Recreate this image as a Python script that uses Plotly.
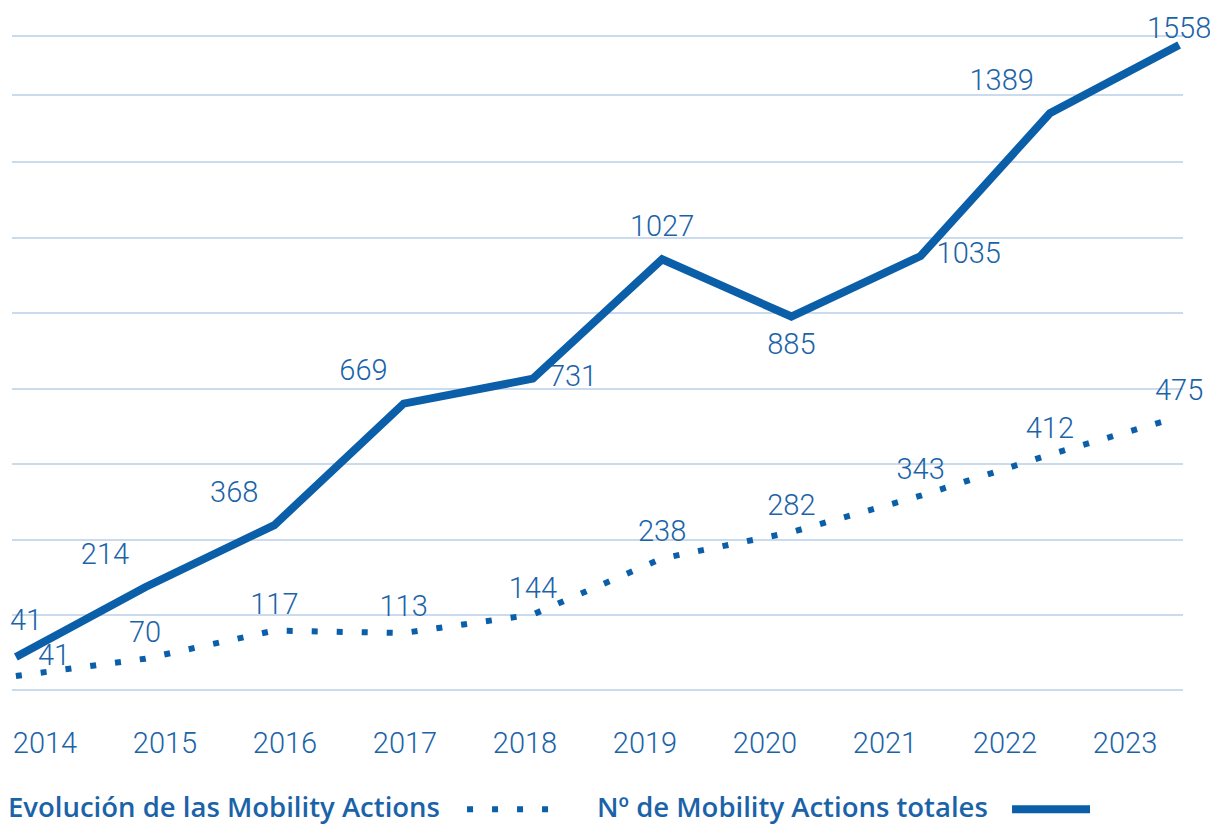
import plotly.graph_objects as go

years = ["2014", "2015", "2016", "2017", "2018", "2019", "2020", "2021", "2022", "2023"]
totales = [41, 214, 368, 669, 731, 1027, 885, 1035, 1389, 1558]
evolucion = [41, 70, 117, 113, 144, 238, 282, 343, 412, 475]

# label placement (style only); the first label of each series is placed by annotation
pos_totales = ["top right", "top left", "top left", "top left", "middle right",
               "top center", "bottom center", "middle right", "top left", "top center"]
pos_evolucion = ["top right", "top center", "top center", "top center", "top center",
                 "top center", "top center", "top center", "top center", "top center"]
gap_totales = [24, 24, 24, 24, 24, 24, 24, 24, 24, 0]
gap_evolucion = [14, 14, 14, 14, 14, 14, 14, 14, 14, 14]

LINE = "#0b5ea8"
TEXT = "#1b63a8"
GRID = "#c9dbec"
NUM_FONT = dict(family="Roboto", size=29, color=TEXT, weight=300)
LEG_FONT = dict(family="Open Sans", size=27.5, color=TEXT, weight=600)
CLEAR = "rgba(0,0,0,0)"

idx = list(range(len(years)))
lab_totales = [""] + [str(v) for v in totales[1:]]
lab_evolucion = [""] + [str(v) for v in evolucion[1:]]

fig = go.Figure()
# invisible markers only serve to push the value labels away from the line
fig.add_trace(go.Scatter(
    x=idx, y=totales, mode="lines+markers+text", text=lab_totales,
    textposition=pos_totales, textfont=NUM_FONT,
    marker=dict(size=gap_totales, color=CLEAR, opacity=0, line=dict(width=0)),
    line=dict(color=LINE, width=8), cliponaxis=False, showlegend=False))
fig.add_trace(go.Scatter(
    x=idx, y=evolucion, yaxis="y2", mode="lines+markers+text", text=lab_evolucion,
    textposition=pos_evolucion, textfont=NUM_FONT,
    marker=dict(size=gap_evolucion, color=CLEAR, opacity=0, line=dict(width=0)),
    line=dict(color=LINE, width=6, dash="6px,19px"), cliponaxis=False, showlegend=False))
# empty trace so the year-label axis gets drawn
fig.add_trace(go.Scatter(x=[], y=[], xaxis="x2", showlegend=False))

# the two starting labels sit close together, so they get explicit offsets
fig.add_annotation(x=idx[0], y=totales[0], xref="x", yref="y", text=str(totales[0]),
                   showarrow=False, font=NUM_FONT, xshift=10, yshift=37)
fig.add_annotation(x=idx[0], y=evolucion[0], xref="x", yref="y2", text=str(evolucion[0]),
                   showarrow=False, font=NUM_FONT, xshift=38, yshift=21)

fig.update_layout(
    width=1218, height=825,
    margin=dict(l=4, r=43, t=24, b=139),
    paper_bgcolor="white", plot_bgcolor="white",
    xaxis=dict(range=[-0.03, 9.03], showticklabels=False, showgrid=False,
               zeroline=False, showline=False),
    xaxis2=dict(overlaying="x", anchor="y", side="bottom", range=[-0.275, 9.483],
                tickvals=idx, ticktext=years, tickfont=NUM_FONT, ticks="",
                showgrid=False, zeroline=False, showline=False, ticklabelstandoff=29),
    yaxis=dict(range=[-50.7, 1590.3],
               tickvals=[-41, 145, 331, 519, 705, 894, 1080, 1268, 1434, 1580],
               showticklabels=False, gridcolor=GRID, gridwidth=1.5, zeroline=False),
    yaxis2=dict(overlaying="y", range=[10.8, 1120.1], visible=False),
)

# legend drawn below the plot, text first and sample after it
LEG_Y = -0.17
fig.add_annotation(text="Evolución de las Mobility Actions", xref="paper", yref="paper",
                   x=-0.005, y=LEG_Y, xanchor="left", yanchor="middle",
                   showarrow=False, font=LEG_FONT)
fig.add_shape(type="line", xref="paper", yref="paper", x0=0.3886, x1=0.4603,
              y0=LEG_Y - 0.004, y1=LEG_Y - 0.004, line=dict(color=LINE, width=6, dash="6px,19px"))
fig.add_annotation(text="Nº de Mobility Actions totales", xref="paper", yref="paper",
                   x=0.498, y=LEG_Y, xanchor="left", yanchor="middle",
                   showarrow=False, font=LEG_FONT)
fig.add_shape(type="line", xref="paper", yref="paper", x0=0.854, x1=0.9206,
              y0=LEG_Y - 0.004, y1=LEG_Y - 0.004, line=dict(color=LINE, width=8))

fig.write_html("out.html")
